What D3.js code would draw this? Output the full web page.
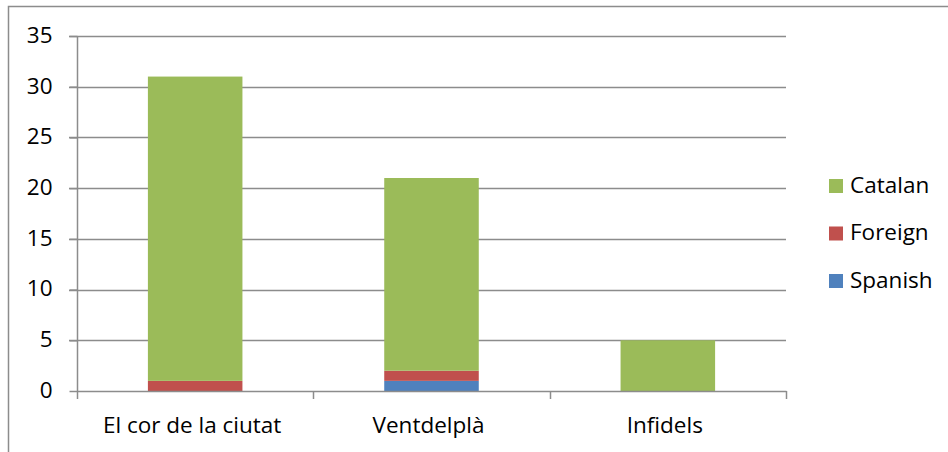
<!DOCTYPE html>
<html>
<head>
<meta charset="utf-8">
<script src="https://cdn.jsdelivr.net/npm/d3@7"></script>
<style>
  body { margin: 0; background: #fff; }
  text { font-family: "Open Sans", sans-serif; fill: #000; }
</style>
</head>
<body>
<div id="chart"></div>
<script>
var categories = ["El cor de la ciutat", "Ventdelplà", "Infidels"];
var series_names = ["Spanish", "Foreign", "Catalan"];
var spanish = [0, 1, 0];
var foreign = [1, 1, 0];
var catalan = [30, 19, 5];
var y_ticks = [0, 5, 10, 15, 20, 25, 30, 35];
var colors = ["#4f81bd", "#c0504d", "#9bbb59"];

var width = 948, height = 452;
var plot = { left: 77, right: 786, top: 36, bottom: 391 };
var font_size = "22.5px";

var svg = d3.select("#chart").append("svg")
  .attr("width", width)
  .attr("height", height);

// Outer border (top and left only are visible)
svg.append("path")
  .attr("d", "M 8.5 452 L 8.5 6.5 L 948 6.5")
  .style("fill", "none")
  .style("stroke", "#8c8c8c")
  .style("stroke-width", 1.5);

var x = d3.scaleBand()
  .domain(categories)
  .range([plot.left, plot.right])
  .paddingInner(0.6)
  .paddingOuter(0.3);

var y = d3.scaleLinear()
  .domain([0, 35])
  .range([plot.bottom, plot.top]);

// Gridlines
svg.append("g").selectAll("line")
  .data(y_ticks.slice(1))
  .enter().append("line")
  .attr("x1", plot.left - 8)
  .attr("x2", plot.right)
  .attr("y1", function(d) { return Math.round(y(d)) + 0.5; })
  .attr("y2", function(d) { return Math.round(y(d)) + 0.5; })
  .style("stroke", "#8c8c8c")
  .style("stroke-width", 1.5);

// Stacked bars
var table = categories.map(function(c, i) {
  return { cat: c, Spanish: spanish[i], Foreign: foreign[i], Catalan: catalan[i] };
});
var stacked = d3.stack().keys(series_names)(table);

svg.append("g").selectAll("g")
  .data(stacked)
  .enter().append("g")
  .style("fill", function(d, i) { return colors[i]; })
  .selectAll("rect")
  .data(function(d) { return d; })
  .enter().append("rect")
  .attr("x", function(d) { return x(d.data.cat); })
  .attr("width", x.bandwidth())
  .attr("y", function(d) { return y(d[1]); })
  .attr("height", function(d) { return y(d[0]) - y(d[1]); });

// Y axis
var yAxis = svg.append("g")
  .attr("transform", "translate(" + (plot.left + 0.5) + ",0)")
  .call(d3.axisLeft(y).tickValues(y_ticks).tickSize(8).tickPadding(17));
yAxis.select(".domain").attr("d", "M0," + plot.top + "V" + (plot.bottom + 1))
  .style("stroke", "#8c8c8c").style("stroke-width", 1.5);
yAxis.selectAll(".tick line").style("stroke", "#8c8c8c").style("stroke-width", 1.5);
yAxis.selectAll("text")
  .style("font-size", font_size)
  .style("font-family", "'Open Sans', sans-serif")
  .attr("dy", "0.28em");

// X axis
var boundaries = [plot.left, plot.left + (plot.right - plot.left) / 3,
  plot.left + 2 * (plot.right - plot.left) / 3, plot.right];
var xg = svg.append("g");
xg.append("line")
  .attr("x1", plot.left).attr("x2", plot.right + 0.5)
  .attr("y1", plot.bottom + 0.5).attr("y2", plot.bottom + 0.5)
  .style("stroke", "#8c8c8c").style("stroke-width", 1.5);
xg.selectAll(".xt").data(boundaries).enter().append("line")
  .attr("x1", function(d) { return Math.round(d) + 0.5; })
  .attr("x2", function(d) { return Math.round(d) + 0.5; })
  .attr("y1", plot.bottom).attr("y2", plot.bottom + 8)
  .style("stroke", "#8c8c8c").style("stroke-width", 1.5);
xg.selectAll("text").data(categories).enter().append("text")
  .attr("x", function(d) { return x(d) + x.bandwidth() / 2 - 3; })
  .attr("y", 433)
  .attr("text-anchor", "middle")
  .style("font-size", font_size)
  .text(function(d) { return d; });

// Legend
var legend_items = ["Catalan", "Foreign", "Spanish"];
var legend = svg.append("g").selectAll("g")
  .data(legend_items)
  .enter().append("g")
  .attr("transform", function(d, i) { return "translate(829," + (179 + i * 47.5) + ")"; });
legend.append("rect")
  .attr("width", 14).attr("height", 14)
  .style("fill", function(d) { return colors[series_names.indexOf(d)]; });
legend.append("text")
  .attr("x", 21).attr("y", 13.5)
  .style("font-size", font_size)
  .text(function(d) { return d; });
</script>
</body>
</html>
